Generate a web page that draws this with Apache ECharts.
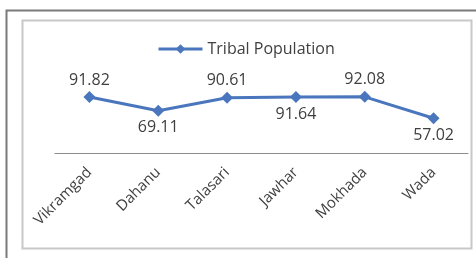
<!DOCTYPE html>
<html>
<head>
<meta charset="utf-8">
<script src="https://cdn.jsdelivr.net/npm/echarts@6/dist/echarts.min.js"></script>
<style>
  html, body { margin: 0; padding: 0; background: #fff; }
  #main { width: 476px; height: 258px; }
</style>
</head>
<body>
<div id="main"></div>
<script type="text/javascript">
  var blocks = ['Vikramgad', 'Dahanu', 'Talasari', 'Jawhar', 'Mokhada', 'Wada'];
  var tribalPopulation = [91.82, 69.11, 90.61, 91.64, 92.08, 57.02];
  // which labels sit above the point, which below
  var labelPlace = ['top', 'bottom', 'top', 'bottom', 'top', 'bottom'];

  var chart = echarts.init(document.getElementById('main'));

  var seriesData = tribalPopulation.map(function (v, i) {
    return { value: v, label: { position: labelPlace[i] } };
  });

  chart.setOption({
    backgroundColor: '#ffffff',
    animation: false,
    textStyle: { fontFamily: 'Open Sans' },
    graphic: [
      // outer frame (runs off the right and bottom)
      { type: 'rect', shape: { x: 6.5, y: 10.5, width: 480, height: 260 },
        style: { fill: null, stroke: '#7a7a7a', lineWidth: 2 } },
      // inner chart area box
      { type: 'rect', shape: { x: 22.5, y: 20.5, width: 449, height: 228 },
        style: { fill: null, stroke: '#c8c8c8', lineWidth: 2 } }
    ],
    legend: {
      top: 36,
      left: 152,
      itemWidth: 44,
      itemHeight: 12,
      itemGap: 4,
      lineStyle: { width: 3 },
      textStyle: { color: '#404040', fontSize: 16, fontFamily: 'Open Sans' },
      data: ['Tribal Population']
    },
    grid: { left: 55, right: 8, top: 92, bottom: 105 },
    xAxis: {
      type: 'category',
      data: blocks,
      boundaryGap: true,
      axisLine: { lineStyle: { color: '#8c8c8c', width: 1 } },
      axisTick: { show: false },
      axisLabel: { rotate: 45, margin: 17, color: '#404040', fontSize: 15, fontFamily: 'Open Sans' }
    },
    yAxis: {
      type: 'value',
      min: 0,
      max: 100,
      show: false
    },
    series: [{
      name: 'Tribal Population',
      type: 'line',
      data: seriesData,
      symbol: 'diamond',
      symbolSize: 12,
      lineStyle: { color: '#4a76bd', width: 3 },
      itemStyle: { color: '#4a76bd' },
      label: {
        show: true,
        distance: 3,
        color: '#404040',
        fontSize: 16,
        fontFamily: 'Open Sans'
      }
    }]
  });
</script>
</body>
</html>
